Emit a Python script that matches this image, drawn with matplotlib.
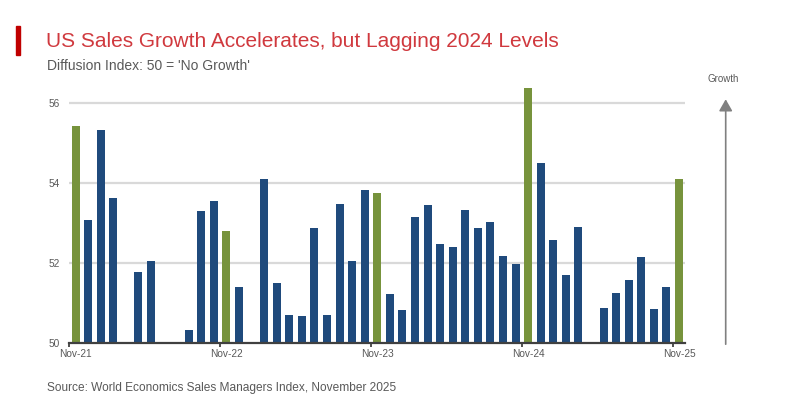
import numpy as np
import pandas as pd
import matplotlib
matplotlib.use('Agg')
import matplotlib.pyplot as plt
from matplotlib.patches import Rectangle

plt.rcParams['font.family'] = ['Liberation Sans', 'DejaVu Sans']

# monthly diffusion index, Nov-21 .. Nov-25 (nan = below 50, not shown)
nan = np.nan
months = pd.date_range('2021-11-01', '2025-11-01', freq='MS')
values = [55.42, 53.07, 55.32, 53.62, nan, 51.78, 52.05, nan, nan, 50.33,
          53.30, 53.55, 52.80, 51.40, nan, 54.10, 51.50, 50.71, 50.68, 52.88,
          50.71, 53.47, 52.05, 53.82, 53.75, 51.23, 50.83, 53.15, 53.45, 52.48,
          52.40, 53.32, 52.88, 53.03, 52.18, 51.98, 56.37, 54.50, 52.58, 51.70,
          52.90, nan, 50.88, 51.25, 51.58, 52.15, 50.85, 51.40, 54.10]
yticks = [50, 52, 54, 56]

blue = '#1f4a7c'
green = '#77933c'
grey_txt = '#595959'

x = np.arange(len(months))
vals = np.array(values)
colors = [green if m.month == 11 else blue for m in months]

fig = plt.figure(figsize=(8, 4), dpi=100)
ax = fig.add_axes([0.0866, 0.1418, 0.77, 0.6515])

for yt in yticks[1:]:
    ax.axhline(yt, color='#d9d9d9', lw=1.6, zorder=0)

ax.bar(x, vals - 50, bottom=50, width=0.64, color=colors, zorder=2)

ax.set_xlim(-0.5, len(months) - 0.5)
ax.set_ylim(50, 56.5)

# ticks at November boundaries, labels under the November bar
nov = [i for i, m in enumerate(months) if m.month == 11]
ax.set_xticks([i - 0.5 for i in nov])
ax.set_xticklabels([])
ax.tick_params(axis='x', length=3, width=1.3, color='#404040', direction='out')
ax.set_xticks(nov, minor=True)
ax.set_xticklabels([m.strftime('%b-%y') for m in months[nov]], minor=True,
                   fontsize=7.3, color=grey_txt)
ax.tick_params(axis='x', which='minor', length=0, pad=4)

ax.set_yticks(yticks)
ax.set_yticklabels([str(v) for v in yticks], fontsize=7.3, color=grey_txt)
ax.tick_params(axis='y', length=0, pad=7)

for s in ['top', 'right', 'left']:
    ax.spines[s].set_visible(False)
ax.spines['bottom'].set_color('#404040')
ax.spines['bottom'].set_linewidth(1.6)
ax.spines['bottom'].set_zorder(3)

# title block
fig.patches.append(Rectangle((16 / 800, 1 - 55 / 400), 4 / 800, 29 / 400,
                             transform=fig.transFigure, color='#c00000'))
fig.text(46 / 800, 1 - 47 / 400, "US Sales Growth Accelerates, but Lagging 2024 Levels",
         fontsize=15, color='#d0393e', va='baseline')
fig.text(47 / 800, 1 - 69.5 / 400, "Diffusion Index: 50 = 'No Growth'",
         fontsize=10, color=grey_txt, va='baseline')
fig.text(47 / 800, 1 - 391.5 / 400, "Source: World Economics Sales Managers Index, November 2025",
         fontsize=8.6, color=grey_txt, va='baseline')

# growth arrow
fig.text(722.7 / 800, 1 - 79 / 400, 'Growth', fontsize=7, color=grey_txt,
         ha='center', va='center')
ax.annotate('', xy=(725.7 / 800, 1 - 96.5 / 400), xytext=(725.7 / 800, 1 - 347 / 400),
            xycoords='figure fraction', textcoords='figure fraction',
            arrowprops=dict(arrowstyle='-|>,head_length=0.7,head_width=0.4',
                            color='#808080', lw=1.2), annotation_clip=False)

fig.savefig('out.png', dpi=100)
